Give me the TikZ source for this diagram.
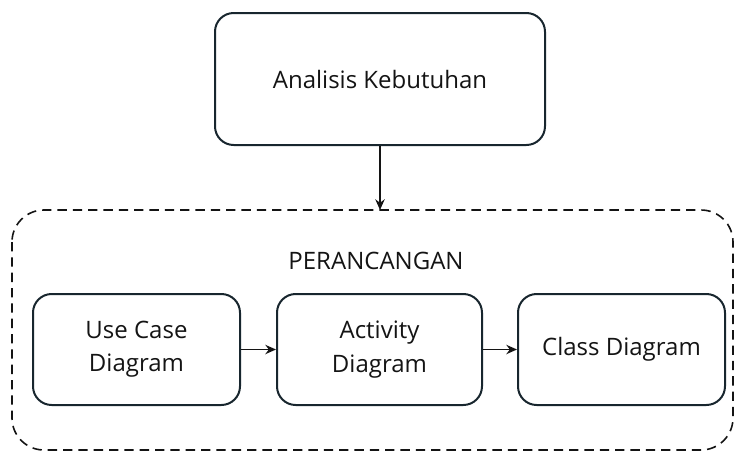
\documentclass[tikz,border=0pt]{standalone}
\usepackage{fontspec}
\setmainfont{Open Sans}
\usetikzlibrary{arrows.meta}
\definecolor{edge}{RGB}{24,38,46}
\definecolor{ink}{RGB}{20,20,20}
\tikzset{
  px/.style={x=0.75pt,y=-0.75pt},
  label text/.style={text=ink,font=\fontsize{18}{25}\selectfont},
  procbox/.style={label text,draw=edge,line width=1.5pt,rounded corners=14pt,align=center,inner sep=0pt},
  flow/.style={draw=ink,line width=1.2pt,-{Stealth[length=8pt,width=7pt]}},
  group/.style={draw=ink,line width=1.2pt,dashed,dash pattern=on 7pt off 4.5pt,rounded corners=24pt}
}
\begin{document}
\begin{tikzpicture}[px]
\useasboundingbox (0,0) rectangle (736,451);
% dashed container for the design stage
\draw[group] (12,210) rectangle (733,450);
\node[label text] (title) at (376,261) {PERANCANGAN};
% boxes
\node[procbox,minimum width=330*0.75pt,minimum height=132*0.75pt] (analisis) at (380,79) {Analisis Kebutuhan};
\node[procbox,minimum width=207*0.75pt,minimum height=111*0.75pt] (usecase) at (136.5,349.5) {Use Case\\Diagram};
\node[procbox,minimum width=205*0.75pt,minimum height=111*0.75pt] (activity) at (379.5,349.5) {Activity\\Diagram};
\node[procbox,minimum width=207*0.75pt,minimum height=111*0.75pt] (class) at (621.5,349.5) {Class Diagram};
\coordinate (entry) at (380,210);
% connectors
\draw[flow] (analisis.south) -- (entry);
\draw[flow] (usecase.east) -- (activity.west);
\draw[flow] (activity.east) -- (class.west);
\end{tikzpicture}
\end{document}
